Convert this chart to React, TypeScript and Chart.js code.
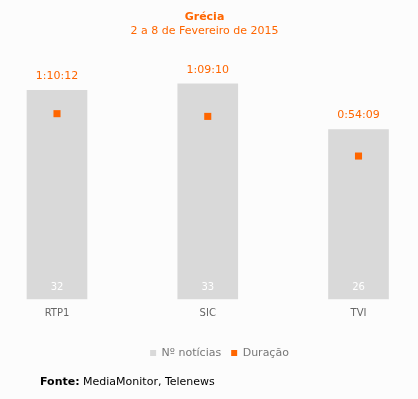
import React, { useEffect, useRef } from 'react';
import { Chart, registerables } from 'chart.js';

Chart.register(...registerables);

const categories = ['RTP1', 'SIC', 'TVI'];
const newsCounts = [32, 33, 26];
const durationLabels = ['1:10:12', '1:09:10', '0:54:09'];
const durationSeconds = [4212, 4150, 3249];
const seriesNames = ['Nº notícias', 'Duração'];
const titleText = 'Grécia';
const subtitleText = '2 a 8 de Fevereiro de 2015';

const ORANGE = '#ff6600';
const GREY_BAR = '#d9d9d9';
const FONT = '"DejaVu Sans", Verdana, sans-serif';

const valueLabels = {
  id: 'valueLabels',
  afterDatasetsDraw(chart: any) {
    const ctx = chart.ctx;
    const meta = chart.getDatasetMeta(0);
    ctx.save();
    ctx.textAlign = 'center';
    ctx.textBaseline = 'middle';
    meta.data.forEach((bar: any, i: number) => {
      const { x, y, base } = bar.getProps(['x', 'y', 'base'], true);
      ctx.font = `11px ${FONT}`;
      ctx.fillStyle = ORANGE;
      ctx.fillText(durationLabels[i], x, y - 14);
      ctx.font = `10px ${FONT}`;
      ctx.fillStyle = '#ffffff';
      ctx.fillText(String(newsCounts[i]), x, base - 12);
    });
    ctx.restore();
  },
};

export default function App() {
  const ref = useRef<HTMLCanvasElement>(null);

  useEffect(() => {
    if (!ref.current) return;
    const chart = new Chart(ref.current, {
      type: 'bar',
      data: {
        labels: categories,
        datasets: [
          {
            type: 'bar',
            label: seriesNames[0],
            data: newsCounts,
            backgroundColor: GREY_BAR,
            borderWidth: 0,
            barThickness: 60,
            yAxisID: 'y',
            order: 1,
            clip: false,
          } as any,
          {
            type: 'line',
            label: seriesNames[1],
            data: durationSeconds,
            yAxisID: 'y2',
            showLine: false,
            pointStyle: 'rect',
            pointRadius: 5,
            pointHoverRadius: 5,
            pointBackgroundColor: ORANGE,
            pointBorderWidth: 0,
            backgroundColor: ORANGE,
            borderColor: ORANGE,
            borderWidth: 0,
            order: 0,
            clip: false,
          } as any,
        ],
      },
      options: {
        responsive: false,
        animation: false,
        layout: { padding: { left: 21, right: 0, top: 50, bottom: 30.5 } },
        scales: {
          x: {
            offset: false,
            grid: { display: false, drawTicks: false },
            border: { display: false },
            ticks: { color: '#666666', font: { family: FONT, size: 10 }, padding: 8 },
            afterFit: (s: any) => { s.height = 38.5; },
          },
          y: {
            position: 'left',
            min: 0,
            max: 38.19,
            grid: { display: false, drawTicks: false },
            border: { display: false },
            ticks: { display: false },
            afterFit: (s: any) => { s.width = 36; },
          },
          y2: {
            position: 'right',
            min: 0,
            max: 5659,
            grid: { display: false, drawTicks: false },
            border: { display: false },
            ticks: { display: false },
            afterFit: (s: any) => { s.width = 59.5; },
          },
        },
        plugins: {
          legend: {
            position: 'bottom',
            labels: {
              boxWidth: 6,
              boxHeight: 6,
              color: '#777777',
              font: { family: FONT, size: 11 },
              padding: 10,
              sort: (a: any, b: any) => a.datasetIndex - b.datasetIndex,
            },
          },
          tooltip: { enabled: false },
        },
      } as any,
      plugins: [valueLabels],
    });
    return () => chart.destroy();
  }, []);

  return (
    <div style={{ position: 'absolute', left: 0, top: 0, width: 418, height: 399, background: '#fcfcfc', fontFamily: FONT }}>
      <canvas ref={ref} width={418} height={399} style={{ position: 'absolute', left: 0, top: 0, width: 418, height: 399 }} />
      <div style={{ position: 'absolute', left: 0, top: 10, width: 409, textAlign: 'center', fontSize: 11, lineHeight: '14px', fontWeight: 'bold', color: ORANGE }}>{titleText}</div>
      <div style={{ position: 'absolute', left: 0, top: 24, width: 409, textAlign: 'center', fontSize: 11, lineHeight: '14px', color: ORANGE }}>{subtitleText}</div>
      <div style={{ position: 'absolute', left: 40, top: 375, fontSize: 11, lineHeight: '14px', color: '#000000', whiteSpace: 'nowrap' }}>
        <b>Fonte:</b> MediaMonitor, Telenews
      </div>
    </div>
  );
}
